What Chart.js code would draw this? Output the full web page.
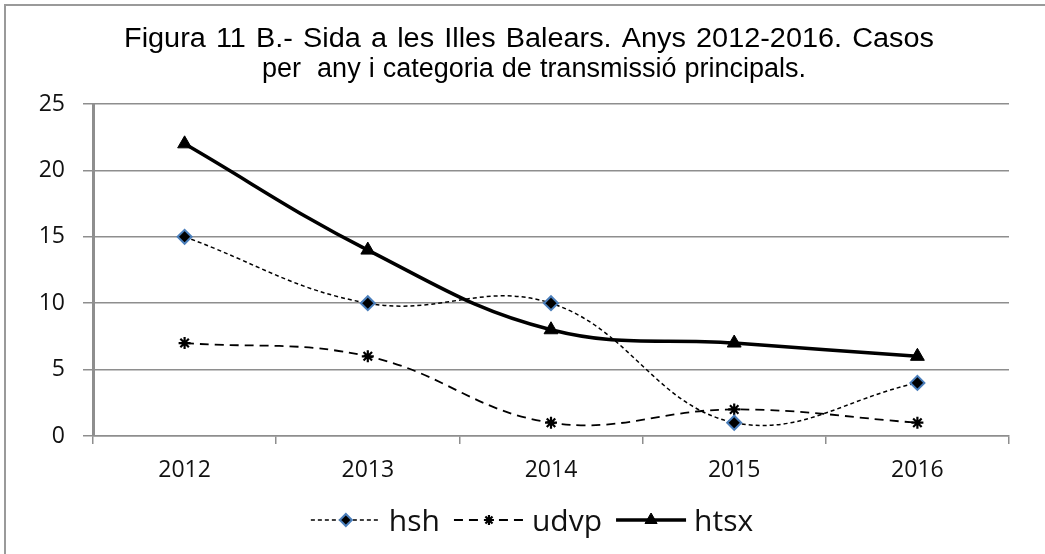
<!DOCTYPE html>
<html>
<head>
<meta charset="utf-8">
<script src="https://cdn.jsdelivr.net/npm/chart.js@4/dist/chart.umd.min.js"></script>
<style>
html,body{margin:0;padding:0;background:#fff;}
#wrap{position:relative;width:1045px;height:554px;}
</style>
</head>
<body>
<div id="wrap"><canvas id="c" width="1045" height="554"></canvas></div>
<script>
const titleLines = ["Figura 11 B.- Sida a les Illes Balears. Anys 2012-2016. Casos", "per  any i categoria de transmissió principals."];
const categories = ["2012", "2013", "2014", "2015", "2016"];
const hsh = [15, 10, 10, 1, 4];
const udvp = [7, 6, 1, 2, 1];
const htsx = [22, 14, 8, 7, 6];
const seriesNames = ["hsh", "udvp", "htsx"];

const GRID = '#8e8e8e';

const frame = {
  id: 'frame',
  beforeDraw(chart) {
    const ctx = chart.ctx;
    ctx.save();
    ctx.fillStyle = '#fff';
    ctx.fillRect(0, 0, chart.width, chart.height);
    ctx.strokeStyle = '#9a9a9a';
    ctx.lineWidth = 2;
    ctx.beginPath();
    ctx.moveTo(5, chart.height);
    ctx.lineTo(5, 5);
    ctx.lineTo(chart.width, 5);
    ctx.stroke();
    ctx.restore();
  }
};

const titlePlugin = {
  id: 'titleText',
  afterDraw(chart) {
    const ctx = chart.ctx;
    ctx.save();
    ctx.fillStyle = '#000';
    ctx.font = '27px "Liberation Sans", Arial, sans-serif';
    ctx.textAlign = 'left';
    ctx.textBaseline = 'alphabetic';
    const specs = [{text: titleLines[0], x0: 124, x1: 934, y: 47}, {text: titleLines[1], x0: 262, x1: 806, y: 77}];
    specs.forEach(s => {
      const target = s.x1 - s.x0;
      if ('wordSpacing' in ctx) ctx.wordSpacing = '0px';
      let w = ctx.measureText(s.text).width;
      const spaces = (s.text.match(/ /g) || []).length;
      if ('wordSpacing' in ctx && spaces > 0) {
        ctx.wordSpacing = Math.min(2, Math.max(0, (target - w) / spaces)) + 'px';
        w = ctx.measureText(s.text).width;
      }
      ctx.save();
      ctx.translate(s.x0, s.y);
      ctx.scale(target / w, 1);
      ctx.fillText(s.text, 0, 0);
      ctx.restore();
    });
    ctx.restore();
  }
};

const legendPlugin = {
  id: 'lineLegend',
  afterDraw(chart) {
    const ctx = chart.ctx;
    ctx.save();
    ctx.font = '30px "Open Sans", sans-serif';
    ctx.textBaseline = 'alphabetic';
    const lineLen = 70, gap = 8, after = 14;
    const items = chart.data.datasets.map(ds => ({ds, tw: ctx.measureText(ds.label).width}));
    let total = 0;
    items.forEach((it, i) => { total += lineLen + gap + it.tw + (i < items.length - 1 ? after : 0); });
    let x = 532 - total / 2;
    const y = 520, baseline = 531;
    items.forEach(it => {
      const ds = it.ds;
      ctx.save();
      ctx.strokeStyle = ds.borderColor;
      ctx.lineWidth = ds.borderWidth;
      ctx.setLineDash(ds.borderDash || []);
      ctx.beginPath();
      ctx.moveTo(x, y);
      ctx.lineTo(x + lineLen, y);
      ctx.stroke();
      ctx.restore();
      ctx.save();
      ctx.fillStyle = ds.pointBackgroundColor;
      ctx.strokeStyle = ds.pointBorderColor;
      ctx.lineWidth = ds.pointBorderWidth;
      ctx.setLineDash([]);
      Chart.helpers.drawPoint(ctx, {pointStyle: ds.pointStyle, radius: ds.pointRadius - 1, borderWidth: ds.pointBorderWidth, rotation: 0}, x + lineLen / 2, y);
      ctx.restore();
      ctx.fillStyle = '#111';
      ctx.fillText(ds.label, x + lineLen + gap, baseline);
      x += lineLen + gap + it.tw + after;
    });
    ctx.restore();
  }
};

new Chart(document.getElementById('c'), {
  type: 'line',
  data: {
    labels: categories,
    datasets: [
      {
        label: seriesNames[0], data: hsh,
        borderColor: '#000', borderWidth: 1.5, borderDash: [4, 3],
        pointStyle: 'rectRot', pointRadius: 7, pointBackgroundColor: '#000',
        pointBorderColor: '#4a7ebb', pointBorderWidth: 2, tension: 0.4
      },
      {
        label: seriesNames[1], data: udvp,
        borderColor: '#000', borderWidth: 1.8, borderDash: [9, 6],
        pointStyle: 'star', pointRadius: 6, pointBackgroundColor: '#000',
        pointBorderColor: '#000', pointBorderWidth: 2.2, tension: 0.4
      },
      {
        label: seriesNames[2], data: htsx,
        borderColor: '#000', borderWidth: 3.5,
        pointStyle: 'triangle', pointRadius: 8, pointBackgroundColor: '#000',
        pointBorderColor: '#000', pointBorderWidth: 1, tension: 0.4
      }
    ]
  },
  options: {
    responsive: false,
    animation: false,
    devicePixelRatio: 1,
    layout: {padding: {top: 104, right: 36, bottom: 0, left: 0}},
    plugins: {legend: {display: false}, title: {display: false}, tooltip: {enabled: false}},
    scales: {
      x: {
        offset: true,
        grid: {offset: true, drawOnChartArea: false, drawTicks: true, tickLength: 8, color: GRID, lineWidth: 1.5},
        border: {display: true, color: GRID, width: 1.5},
        ticks: {color: '#111', font: {family: '"Open Sans", sans-serif', size: 23}, padding: 13},
        afterFit(s) { s.height = 118; }
      },
      y: {
        min: 0, max: 25,
        ticks: {stepSize: 5, color: '#111', font: {family: '"Open Sans", sans-serif', size: 23}, padding: 18},
        grid: {color: GRID, lineWidth: 1.5, tickLength: 10, drawTicks: true},
        border: {display: true, color: GRID, width: 3},
        afterFit(s) { s.width = 93; }
      }
    }
  },
  plugins: [frame, titlePlugin, legendPlugin]
});
</script>
</body>
</html>
